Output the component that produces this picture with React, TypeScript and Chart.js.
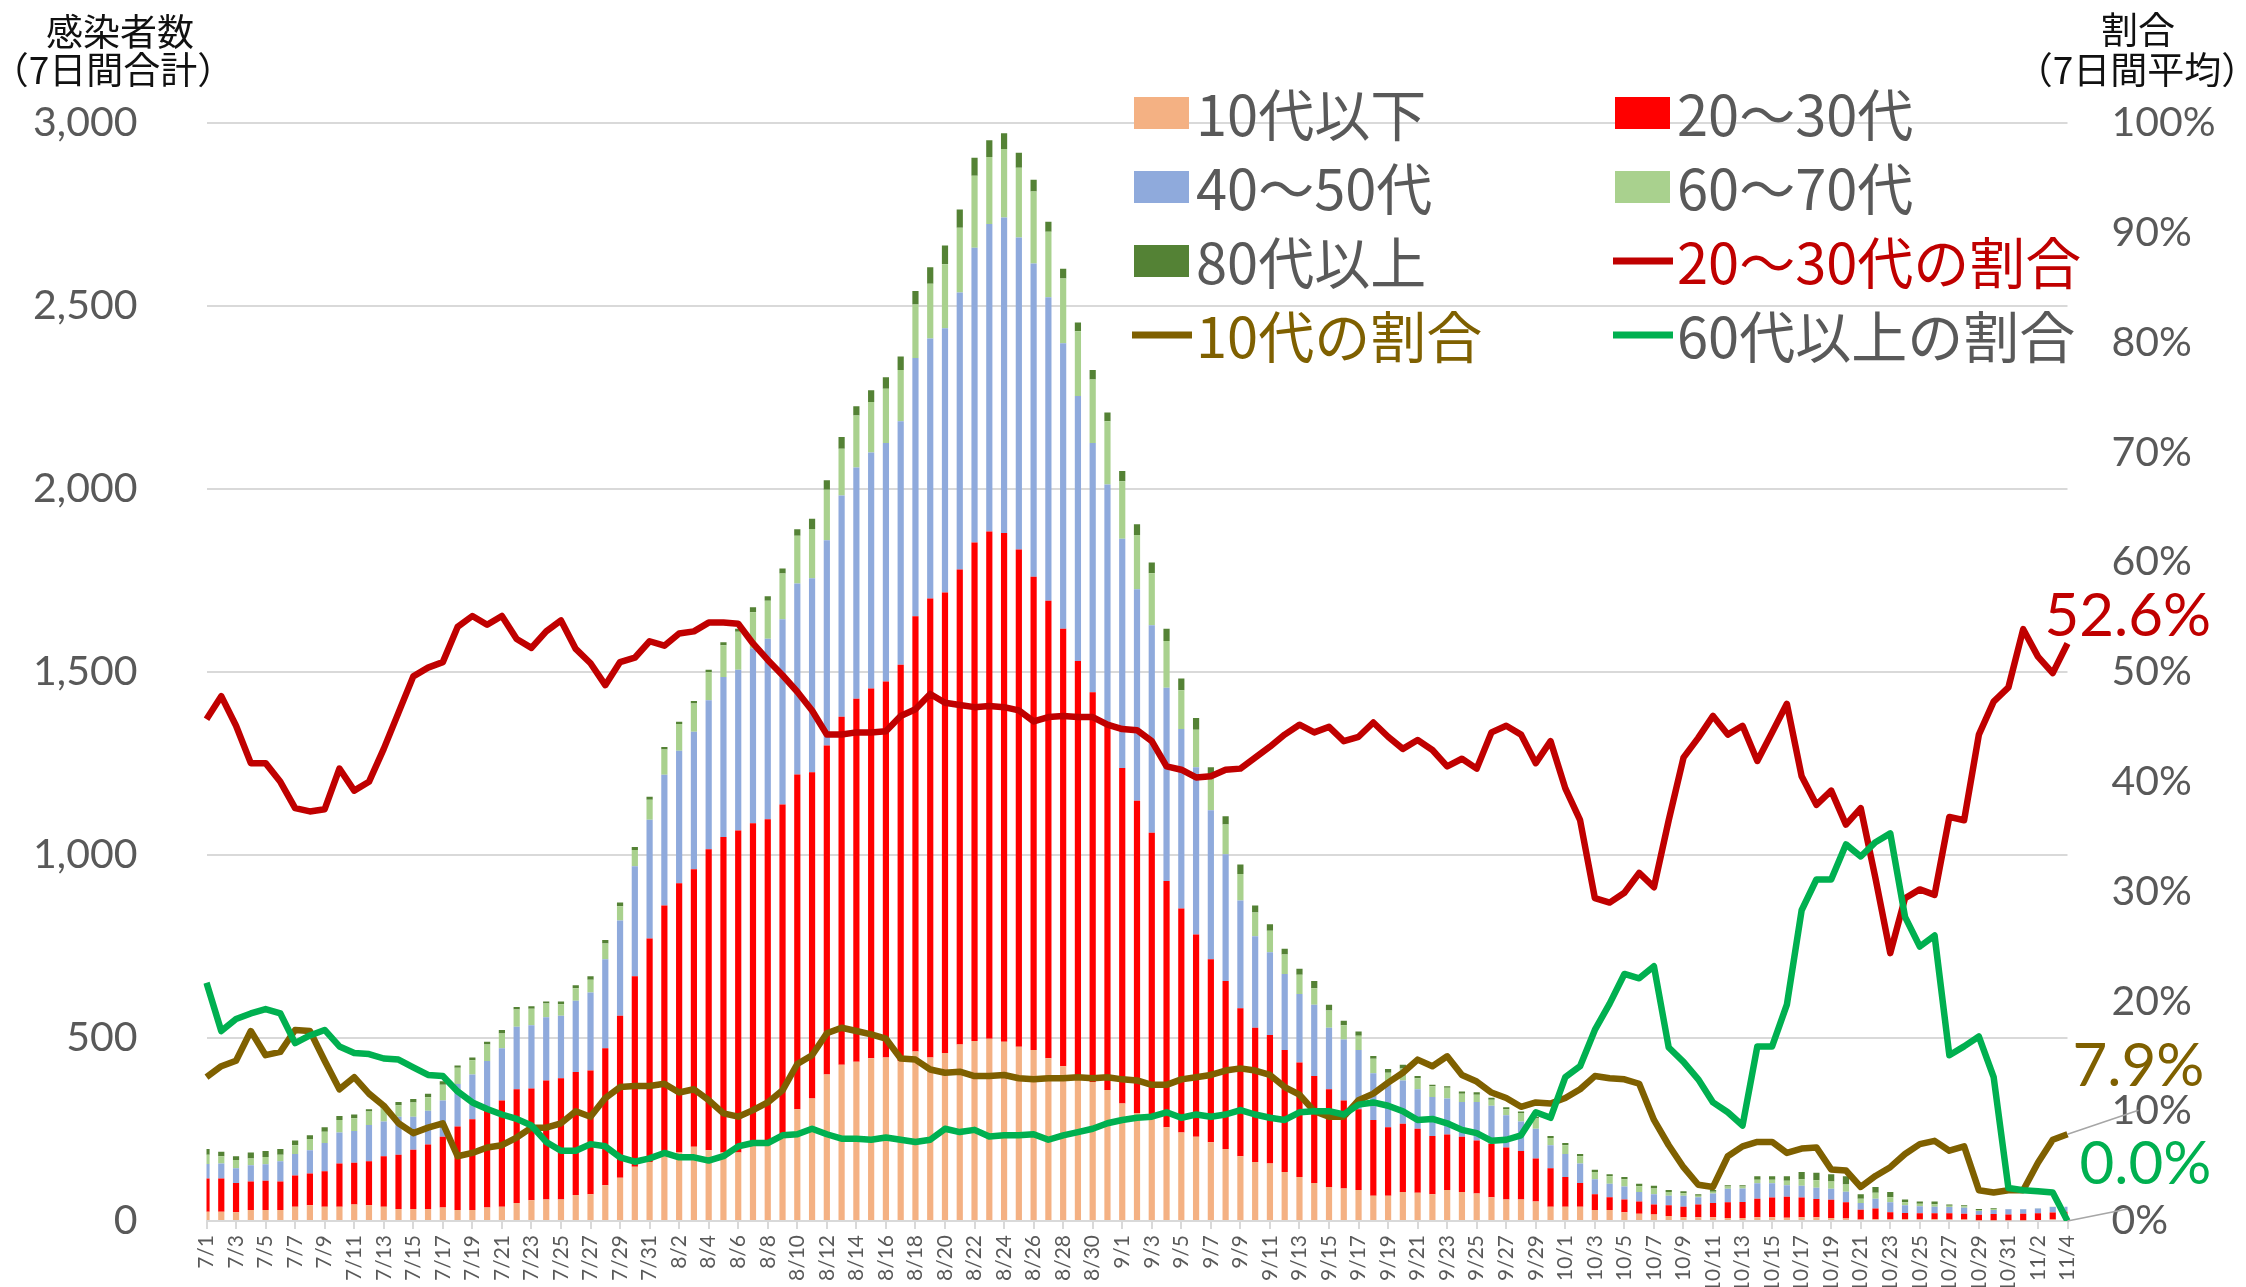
import React, { useEffect, useRef } from "react";
import { Chart, registerables } from "chart.js";

Chart.register(...registerables);

const categories = [
  "7/1","7/2","7/3","7/4","7/5","7/6","7/7","7/8","7/9","7/10","7/11","7/12","7/13","7/14","7/15","7/16","7/17","7/18","7/19","7/20","7/21","7/22","7/23","7/24","7/25","7/26","7/27","7/28","7/29","7/30","7/31",
  "8/1","8/2","8/3","8/4","8/5","8/6","8/7","8/8","8/9","8/10","8/11","8/12","8/13","8/14","8/15","8/16","8/17","8/18","8/19","8/20","8/21","8/22","8/23","8/24","8/25","8/26","8/27","8/28","8/29","8/30","8/31",
  "9/1","9/2","9/3","9/4","9/5","9/6","9/7","9/8","9/9","9/10","9/11","9/12","9/13","9/14","9/15","9/16","9/17","9/18","9/19","9/20","9/21","9/22","9/23","9/24","9/25","9/26","9/27","9/28","9/29","9/30",
  "10/1","10/2","10/3","10/4","10/5","10/6","10/7","10/8","10/9","10/10","10/11","10/12","10/13","10/14","10/15","10/16","10/17","10/18","10/19","10/20","10/21","10/22","10/23","10/24","10/25","10/26","10/27","10/28","10/29","10/30","10/31",
  "11/1","11/2","11/3","11/4"
];

const under10 = [
  25,25,24,30,30,30,39,43,39,39,
  45,43,39,33,33,33,37,30,30,37,
  39,49,57,59,59,71,73,98,118,148,
  161,177,187,203,193,187,187,217,220,226,
  305,335,400,427,435,445,447,437,463,447,
  459,482,492,498,490,476,467,445,423,394,
  380,358,321,295,285,256,242,230,215,197,
  177,161,157,134,120,104,93,89,85,69,
  69,79,77,73,85,79,75,65,59,59,
  53,39,39,39,30,30,24,20,18,14,
  10,10,10,8,8,10,10,9,10,10,
  8,7,4,5,5,5,5,5,4,4,
  2,2,2,2,3,4,4
];

const age20to30 = [
  91,91,80,78,80,78,85,87,97,118,
  114,120,138,148,162,176,193,228,248,268,
  290,311,305,325,331,336,338,374,443,521,
  611,685,736,758,823,862,880,870,878,912,
  915,891,899,951,992,1010,1027,1083,1189,1254,
  1258,1298,1362,1386,1390,1359,1293,1250,1195,1136,
  1065,994,917,853,776,673,612,553,500,459,
  404,367,351,333,313,292,267,240,220,207,
  187,187,175,159,151,151,145,146,142,132,
  118,105,81,65,43,35,35,33,27,29,
  29,35,39,43,44,51,54,57,54,50,
  50,44,27,29,19,17,16,16,17,16,
  15,17,16,18,18,19,21
];

const age40to50 = [
  40,41,40,44,45,55,59,63,77,85,
  87,99,95,104,90,92,99,116,122,132,
  143,171,173,173,171,195,213,243,260,300,
  324,357,362,376,407,437,439,478,493,506,
  522,530,561,604,632,645,652,665,706,710,
  722,757,805,840,862,852,856,829,780,724,
  681,660,626,578,567,528,490,457,407,346,
  295,250,226,208,187,195,168,167,162,128,
  116,118,108,107,99,95,105,104,88,81,
  81,63,63,53,41,37,35,26,28,26,
  30,20,26,37,37,42,39,32,32,31,
  30,29,18,27,27,21,19,18,17,16,
  10,11,14,12,13,15,14
];

const age60to70 = [
  25,20,23,19,20,18,24,31,31,34,
  35,37,37,31,39,37,43,45,39,45,
  40,47,45,37,31,34,35,43,39,45,
  55,69,73,77,77,87,104,98,104,125,
  130,135,138,128,142,138,148,140,146,150,
  175,177,197,183,187,191,197,179,177,177,
  173,173,157,148,142,128,106,102,89,81,
  72,65,59,53,53,45,47,39,39,39,
  33,33,30,29,29,23,20,16,16,23,
  28,20,24,20,20,20,20,16,16,10,
  7,4,5,6,5,10,10,12,18,20,
  20,20,12,16,14,8,7,7,4,4,
  3,3,1,1,1,1,0
];

const age80plus = [
  16,12,10,16,16,16,13,10,12,11,
  10,6,6,9,9,10,10,6,8,8,
  10,7,7,6,8,8,10,10,10,8,
  8,7,6,7,6,8,8,14,12,14,
  18,28,26,32,25,32,31,37,37,45,
  51,50,49,46,43,41,32,27,27,24,
  26,24,28,30,29,33,32,32,29,23,
  26,19,18,16,16,20,16,12,12,8,
  10,10,6,4,4,6,7,6,6,4,
  5,5,6,6,6,6,6,7,7,6,
  5,4,5,4,4,9,9,12,20,21,
  20,22,12,16,14,8,6,7,3,3,
  3,2,0,0,0,0,0
];

const share20to30 = [
  45.7,47.8,45.1,41.7,41.7,40.0,37.6,37.3,37.5,41.2,
  39.2,40.0,43.0,46.3,49.6,50.4,50.9,54.1,55.1,54.3,
  55.1,53.0,52.2,53.7,54.7,52.1,50.8,48.8,50.9,51.3,
  52.8,52.4,53.5,53.7,54.5,54.5,54.4,52.6,51.1,49.7,
  48.2,46.5,44.3,44.3,44.5,44.5,44.6,46.0,46.6,48.0,
  47.2,47.0,46.8,46.9,46.8,46.5,45.5,45.9,46.0,45.9,
  45.9,45.2,44.8,44.7,43.7,41.4,41.1,40.4,40.5,41.1,
  41.2,42.2,43.2,44.3,45.2,44.5,45.0,43.7,44.1,45.4,
  44.1,43.0,43.8,42.9,41.4,42.1,41.2,44.5,45.1,44.3,
  41.7,43.7,39.4,36.5,29.4,29.0,29.9,31.7,30.4,36.5,
  42.2,44.0,46.0,44.3,45.1,41.9,44.5,47.1,40.5,37.9,
  39.2,36.1,37.6,31.2,24.4,29.4,30.2,29.7,36.8,36.5,
  44.3,47.3,48.6,53.9,51.4,49.9,52.6
];

const share10s = [
  13.1,14.1,14.6,17.3,15.1,15.4,17.4,17.3,14.6,12.0,
  13.1,11.6,10.5,8.9,8.0,8.5,8.9,5.9,6.2,6.7,
  6.9,7.6,8.5,8.5,8.9,10.0,9.5,11.2,12.2,12.3,
  12.3,12.5,11.7,12.0,11.0,9.8,9.5,10.1,10.8,11.9,
  14.3,15.1,17.1,17.6,17.3,17.0,16.6,14.8,14.7,13.8,
  13.5,13.6,13.2,13.2,13.3,13.0,12.9,13.0,13.0,13.1,
  13.0,13.1,12.9,12.8,12.4,12.4,12.9,13.1,13.3,13.7,
  13.9,13.7,13.3,12.2,11.5,10.0,9.5,9.5,11.0,11.6,
  12.6,13.5,14.7,14.1,15.0,13.3,12.7,11.7,11.2,10.4,
  10.8,10.7,11.2,12.0,13.2,13.0,12.9,12.5,9.2,6.9,
  4.9,3.3,3.1,5.9,6.8,7.2,7.2,6.2,6.6,6.7,
  4.7,4.6,3.1,4.1,4.9,6.1,7.0,7.3,6.4,6.8,
  2.8,2.6,2.8,2.8,5.3,7.4,7.9
];

const share60plus = [
  21.7,17.3,18.4,18.9,19.3,18.9,16.2,16.9,17.4,15.9,
  15.3,15.2,14.8,14.7,14.0,13.3,13.2,11.8,10.8,10.2,
  9.7,9.3,8.7,7.2,6.4,6.4,7.0,6.8,5.8,5.4,
  5.7,6.2,5.8,5.8,5.5,5.9,6.8,7.1,7.1,7.8,
  7.9,8.4,7.9,7.5,7.5,7.4,7.6,7.4,7.2,7.4,
  8.4,8.1,8.3,7.7,7.8,7.8,7.9,7.4,7.8,8.1,
  8.4,8.9,9.2,9.4,9.5,9.9,9.4,9.7,9.5,9.7,
  10.1,9.7,9.4,9.2,9.9,10.0,10.0,9.7,10.6,10.8,
  10.5,10.0,9.2,9.3,8.9,8.3,8.0,7.3,7.4,7.8,
  9.9,9.4,13.1,14.1,17.4,19.8,22.5,22.1,23.2,15.8,
  14.5,12.9,10.8,9.9,8.7,15.9,15.9,19.7,28.3,31.1,
  31.1,34.3,33.2,34.5,35.3,27.7,25.0,26.0,15.1,15.9,
  16.8,13.1,3.0,2.8,2.7,2.6,0.0
];

const leftTicks = [0, 500, 1000, 1500, 2000, 2500, 3000];
const rightTicks = [0, 10, 20, 30, 40, 50, 60, 70, 80, 90, 100];

const JP = '"Noto Sans CJK JP", "Noto Sans", sans-serif';
const NUM = 'Lato, "Noto Sans", sans-serif';

const overlayPlugin = {
  id: "overlay",
  afterDraw(chart: any) {
    const ctx = chart.ctx as CanvasRenderingContext2D;
    ctx.save();
    // axis titles
    ctx.fillStyle = "#111111";
    ctx.font = `37px ${JP}`;
    ctx.textAlign = "center";
    ctx.textBaseline = "middle";
    ctx.fillText("感染者数", 120, 32);
    ctx.fillText("（7日間合計）", 113, 70);
    ctx.fillText("割合", 2138, 30);
    ctx.fillText("（7日間平均）", 2137, 70);

    // legend (2 columns)
    const colX = [1134, 1615];
    const rowY = [113, 187, 261, 335];
    const textColors = ["#595959", "#595959", "#595959", "#595959", "#595959", "#C00000", "#7F6000", "#595959"];
    ctx.font = `56px ${JP}`;
    ctx.textAlign = "left";
    chart.data.datasets.forEach((ds: any, i: number) => {
      const x = colX[i % 2];
      const y = rowY[Math.floor(i / 2)];
      if (ds.type === "line") {
        ctx.strokeStyle = ds.borderColor;
        ctx.lineWidth = 7;
        ctx.lineCap = "butt";
        ctx.beginPath();
        ctx.moveTo(x - 2, y);
        ctx.lineTo(x + 58, y);
        ctx.stroke();
      } else {
        ctx.fillStyle = ds.backgroundColor;
        ctx.fillRect(x, y - 16, 55, 32);
      }
      ctx.fillStyle = textColors[i];
      ctx.fillText(ds.label, x + 62, y + 2);
    });

    // end labels
    const xs = chart.scales.x;
    const ys = chart.scales.y1;
    const last = categories.length - 1;
    const xEnd = xs.getPixelForValue(last);
    const yRed = ys.getPixelForValue(share20to30[last]);
    const yBrown = ys.getPixelForValue(share10s[last]);
    const yGreen = ys.getPixelForValue(share60plus[last]);

    ctx.strokeStyle = "#a6a6a6";
    ctx.lineWidth = 1.5;
    ctx.beginPath();
    ctx.moveTo(xEnd, yBrown);
    ctx.lineTo(xEnd + 71, yBrown - 24);
    ctx.moveTo(xEnd, yGreen);
    ctx.lineTo(xEnd + 60, yGreen - 12);
    ctx.stroke();

    ctx.font = `60px ${NUM}`;
    ctx.textAlign = "left";
    ctx.textBaseline = "middle";
    ctx.fillStyle = "#C00000";
    ctx.fillText(share20to30[last].toFixed(1) + "%", xEnd - 23, yRed - 27);
    ctx.fillStyle = "#7F6000";
    ctx.fillText(share10s[last].toFixed(1) + "%", xEnd + 5, yBrown - 68);
    ctx.fillStyle = "#00B050";
    ctx.fillText(share60plus[last].toFixed(1) + "%", xEnd + 12, yGreen - 56);
    ctx.restore();
  },
};

export default function App() {
  const ref = useRef<HTMLCanvasElement>(null);

  useEffect(() => {
    document.body.style.margin = "0";
    const canvas = ref.current;
    if (!canvas) return;

    const barCommon = {
      type: "bar" as const,
      yAxisID: "y",
      barPercentage: 0.42,
      categoryPercentage: 1.0,
      borderWidth: 0,
      order: 10,
      clip: 0,
    };
    const lineCommon = {
      type: "line" as const,
      yAxisID: "y1",
      borderWidth: 6.5,
      pointRadius: 0,
      pointHoverRadius: 0,
      fill: false,
      tension: 0,
      borderJoinStyle: "round" as const,
    };

    const chart = new Chart(canvas, {
      type: "bar",
      data: {
        labels: categories,
        datasets: [
          { ...barCommon, label: "10代以下", data: under10, backgroundColor: "#F4B183" },
          { ...barCommon, label: "20～30代", data: age20to30, backgroundColor: "#FF0000" },
          { ...barCommon, label: "40～50代", data: age40to50, backgroundColor: "#8FAADC" },
          { ...barCommon, label: "60～70代", data: age60to70, backgroundColor: "#A9D18E" },
          { ...barCommon, label: "80代以上", data: age80plus, backgroundColor: "#548235" },
          { ...lineCommon, label: "20～30代の割合", data: share20to30, borderColor: "#C00000", backgroundColor: "#C00000", order: 3 },
          { ...lineCommon, label: "10代の割合", data: share10s, borderColor: "#7F6000", backgroundColor: "#7F6000", order: 2 },
          { ...lineCommon, label: "60代以上の割合", data: share60plus, borderColor: "#00B050", backgroundColor: "#00B050", order: 1 },
        ] as any,
      },
      options: {
        responsive: false,
        animation: false,
        devicePixelRatio: 1,
        layout: { padding: { top: 123, left: 0, right: 0, bottom: 0 } },
        plugins: {
          legend: { display: false },
          tooltip: { enabled: false },
          title: { display: false },
        },
        scales: {
          x: {
            stacked: true,
            offset: false,
            grid: {
              offset: false,
              drawOnChartArea: false,
              drawTicks: true,
              tickLength: 8,
              lineWidth: 2,
              color: (c: any) => (c.index % 2 === 0 ? "#d9d9d9" : "rgba(0,0,0,0)"),
            },
            border: { display: true, color: "#d9d9d9", width: 2 },
            ticks: {
              autoSkip: false,
              maxRotation: 90,
              minRotation: 90,
              padding: 6,
              color: "#595959",
              font: { family: NUM, size: 21 },
              callback: (_v: any, i: number) => (i % 2 === 0 ? categories[i] : ""),
            },
            afterFit: (s: any) => {
              s.height = 66;
            },
          },
          y: {
            stacked: true,
            position: "left",
            min: 0,
            max: 3000,
            afterBuildTicks: (s: any) => {
              s.ticks = leftTicks.map((v) => ({ value: v }));
            },
            grid: { color: "#d9d9d9", lineWidth: 2, drawTicks: false },
            border: { display: false },
            ticks: {
              padding: 69,
              color: "#595959",
              font: { family: NUM, size: 41 },
              callback: (v: any) => Number(v).toLocaleString("en-US"),
            },
            afterFit: (s: any) => {
              s.width = 206.5;
              s.paddingTop = 0;
              s.paddingBottom = 0;
            },
          },
          y1: {
            position: "right",
            min: 0,
            max: 100,
            afterBuildTicks: (s: any) => {
              s.ticks = rightTicks.map((v) => ({ value: v }));
            },
            grid: { display: false, drawTicks: false },
            border: { display: false },
            ticks: {
              padding: 44,
              color: "#595959",
              font: { family: NUM, size: 41 },
              callback: (v: any) => `${v}%`,
            },
            afterFit: (s: any) => {
              s.width = 178.5;
              s.paddingTop = 0;
              s.paddingBottom = 0;
            },
          },
        },
      } as any,
      plugins: [overlayPlugin],
    });

    return () => chart.destroy();
  }, []);

  return (
    <div style={{ width: 2246, height: 1287, background: "#ffffff", overflow: "hidden" }}>
      <canvas ref={ref} width={2246} height={1287} style={{ display: "block" }} />
    </div>
  );
}
